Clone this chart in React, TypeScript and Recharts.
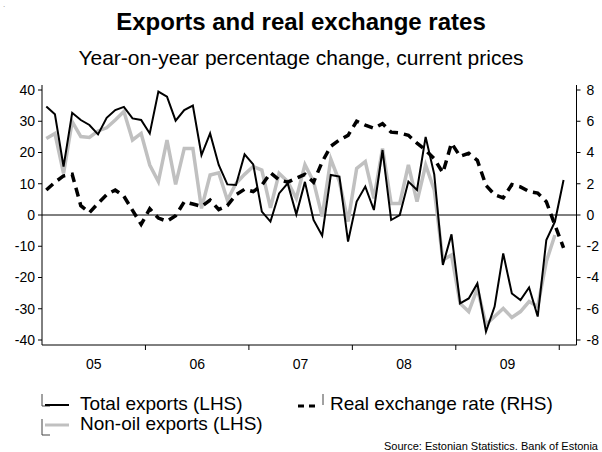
import { LineChart, Line, XAxis, YAxis, ReferenceLine } from "recharts";

// monthly, Jan 2005 .. Jan 2010 (61 months), y/y % change
const yearLabels = ["05", "06", "07", "08", "09"];

const totalExports = [
  34.7, 32.2, 15.5, 32.7, 30.4, 28.8, 25.8, 31.1, 33.6, 34.6,
  30.9, 30.4, 26.1, 39.5, 37.9, 30.2, 33.6, 35.0, 19.2, 26.1,
  16.0, 9.8, 9.6, 19.4, 16.2, 1.1, -2.1, 6.9, 10.1, 0.2,
  10.6, -1.6, -6.6, 12.8, 12.3, -8.5, 4.3, 9.1, 1.6, 20.8,
  -1.6, 0.0, 10.7, 8.0, 25.0, 13.0, -16.0, -6.2, -28.3, -26.7,
  -21.9, -37.3, -29.3, -12.3, -25.1, -27.2, -23.2, -32.5, -8.0, -2.1, 11.2,
];

const nonOilExports = [
  24.5, 26.1, 13.3, 29.9, 25.1, 24.8, 26.9, 27.9, 30.4, 33.1,
  24.0, 26.1, 16.0, 10.7, 24.0, 9.8, 21.3, 21.3, 2.1, 12.8,
  13.5, 4.8, 10.1, 13.0, 15.5, 14.4, 2.3, 13.3, 10.7, 5.3,
  16.1, 10.7, -0.5, 17.9, 10.7, -2.1, 14.9, 17.1, 5.3, 21.3,
  3.7, 3.7, 16.0, 4.3, 16.0, 8.0, -14.4, -12.8, -28.3, -30.9,
  -23.5, -35.0, -32.5, -29.9, -32.8, -30.9, -27.7, -29.3, -14.9, -6.4, null,
];

const realExchangeRate = [
  1.6, 2.1, 2.5, 2.6, 0.6, 0.15, 0.75, 1.3, 1.6, 1.2,
  0.3, -0.6, 0.4, -0.2, -0.4, -0.05, 0.85, 0.7, 0.55, 0.95,
  0.35, 0.6, 1.3, 1.65, 1.5, 1.9, 2.7, 2.25, 2.1, 2.35,
  2.6, 2.1, 3.4, 4.4, 4.8, 5.1, 6.0, 5.75, 5.55, 5.85,
  5.3, 5.25, 5.1, 4.6, 4.15, 3.6, 2.7, 4.6, 3.75, 3.95,
  3.5, 1.9, 1.3, 1.1, 1.95, 1.8, 1.5, 1.4, 0.85, -0.65, -2.1,
];

const leftTicks = [-40, -30, -20, -10, 0, 10, 20, 30, 40];
const rightTicks = [-8, -6, -4, -2, 0, 2, 4, 6, 8];

const data = totalExports.map((v, i) => ({
  m: i + 0.5,
  total: v,
  nonOil: nonOilExports[i],
  rer: realExchangeRate[i],
}));

const FONT = "'Liberation Sans', Arial, sans-serif";

function YearTick(props: any) {
  const { x, y, payload } = props;
  const v = payload.value as number;
  if (v % 12 === 0) {
    return <line x1={x} x2={x} y1={y - 8} y2={y - 3} stroke="#000" />;
  }
  return (
    <text x={x} y={y + 16} textAnchor="middle" fontSize={14} fill="#000" fontFamily={FONT}>
      {yearLabels[(v - 6) / 12]}
    </text>
  );
}

function Legend() {
  return (
    <svg width={602} height={60} style={{ position: "absolute", left: 0, top: 388 }}>
      <g fontFamily={FONT} fontSize={19} fill="#000">
        {/* row 1 */}
        <path d="M42 6 V18 H50" stroke="#444" fill="none" strokeWidth={1} />
        <line x1={45} x2={69} y1={17} y2={17} stroke="#000" strokeWidth={2} />
        <text x={80} y={22}>Total exports (LHS)</text>

        <line x1={298} x2={319} y1={18} y2={18} stroke="#000" strokeWidth={3} strokeDasharray="6 5" />
        <line x1={323} x2={323} y1={6} y2={17} stroke="#444" strokeWidth={1} />
        <text x={330} y={22}>Real exchange rate (RHS)</text>

        {/* row 2 */}
        <path d="M42 31 V47 H50" stroke="#444" fill="none" strokeWidth={1} />
        <line x1={45} x2={69} y1={37} y2={37} stroke="#c0c0c0" strokeWidth={3} />
        <text x={80} y={42}>Non-oil exports (LHS)</text>
      </g>
    </svg>
  );
}

export default function App() {
  return (
    <div
      style={{
        position: "absolute",
        left: 0,
        top: 0,
        width: 602,
        height: 452,
        background: "#fff",
        fontFamily: FONT,
        overflow: "hidden",
      }}
    >
      <div style={{ position: "absolute", left: 3, top: 0, fontSize: 8, lineHeight: "10px", color: "#888" }}>.</div>
      <div
        style={{
          position: "absolute",
          top: 8,
          width: 602,
          textAlign: "center",
          fontSize: 24,
          fontWeight: "bold",
          lineHeight: "28px",
        }}
      >
        Exports and real exchange rates
      </div>
      <div
        style={{
          position: "absolute",
          top: 46,
          width: 602,
          textAlign: "center",
          fontSize: 21,
          lineHeight: "24px",
        }}
      >
        Year-on-year percentage change, current prices
      </div>

      <div style={{ position: "absolute", left: 0, top: 0 }}>
        <LineChart
          width={602}
          height={452}
          data={data}
          margin={{ top: 85, right: 0, bottom: 77, left: 8 }}
        >
          <XAxis
            dataKey="m"
            type="number"
            domain={[0, 62]}
            ticks={[6, 12, 18, 24, 30, 36, 42, 48, 54, 60]}
            interval={0}
            height={30}
            tickSize={6}
            tickMargin={2}
            tickLine={false}
            tick={<YearTick />}
            axisLine={{ stroke: "#000" }}
          />
          <YAxis
            yAxisId="left"
            domain={[-41.6, 41.6]}
            ticks={leftTicks}
            interval={0}
            width={34}
            tickSize={4}
            tickMargin={3}
            allowDataOverflow
            tick={{ fontSize: 14, fill: "#000", fontFamily: FONT }}
            tickLine={{ stroke: "#000" }}
            axisLine={{ stroke: "#000" }}
          />
          <YAxis
            yAxisId="right"
            orientation="right"
            domain={[-8.32, 8.32]}
            ticks={rightTicks}
            interval={0}
            width={25.5}
            tickSize={4}
            tickMargin={6}
            allowDataOverflow
            tick={{ fontSize: 14, fill: "#000", fontFamily: FONT }}
            tickLine={{ stroke: "#000" }}
            axisLine={{ stroke: "#000" }}
          />
          <ReferenceLine yAxisId="left" y={0} stroke="#000" strokeWidth={1} />
          <Line
            yAxisId="left"
            dataKey="nonOil"
            stroke="#c0c0c0"
            strokeWidth={3.5}
            dot={false}
            type="linear"
            isAnimationActive={false}
          />
          <Line
            yAxisId="right"
            dataKey="rer"
            stroke="#000"
            strokeWidth={3.5}
            strokeDasharray="9 6"
            dot={false}
            type="linear"
            isAnimationActive={false}
          />
          <Line
            yAxisId="left"
            dataKey="total"
            stroke="#000"
            strokeWidth={2}
            dot={false}
            type="linear"
            isAnimationActive={false}
          />
        </LineChart>
      </div>

      <Legend />
      <div
        style={{
          position: "absolute",
          right: 4,
          top: 440,
          fontSize: 11,
          lineHeight: "13px",
        }}
      >
        Source: Estonian Statistics. Bank of Estonia
      </div>
    </div>
  );
}
